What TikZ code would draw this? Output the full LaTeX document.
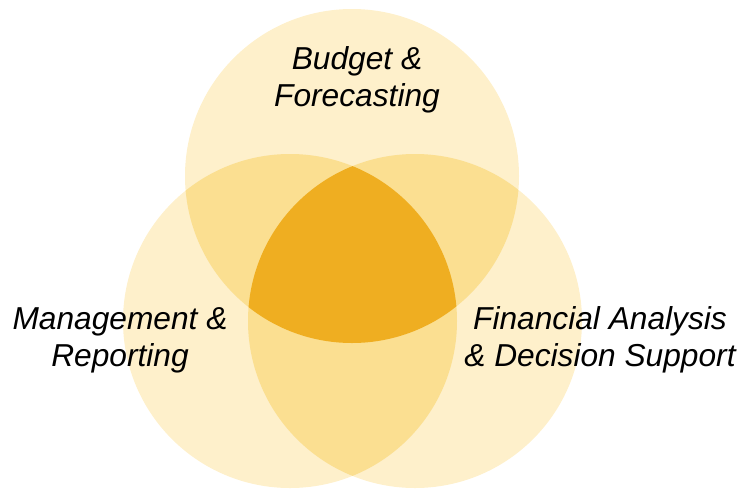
\documentclass[tikz,border=0pt]{standalone}
\usepackage{fontspec}
\setmainfont{Liberation Sans}
\definecolor{vennone}{HTML}{FEF0CB}
\definecolor{venntwo}{HTML}{FBDF91}
\definecolor{vennthree}{HTML}{EFAE21}
\begin{document}
\begin{tikzpicture}[x=1pt,y=-1pt,
  lbl/.style={align=center,inner sep=0pt,font=\fontsize{31.7}{37}\selectfont\itshape}]
\useasboundingbox (0,0) rectangle (744,488);
\coordinate (T) at (352,176);
\coordinate (L) at (290,321);
\coordinate (R) at (415,321);
\def\rr{167}
\fill[vennone] (T) circle[radius=\rr];
\fill[vennone] (L) circle[radius=\rr];
\fill[vennone] (R) circle[radius=\rr];
\begin{scope}\clip (T) circle[radius=\rr]; \fill[venntwo] (L) circle[radius=\rr]; \fill[venntwo] (R) circle[radius=\rr];\end{scope}
\begin{scope}\clip (L) circle[radius=\rr]; \fill[venntwo] (R) circle[radius=\rr];\end{scope}
\begin{scope}\clip (T) circle[radius=\rr]; \clip (L) circle[radius=\rr]; \fill[vennthree] (R) circle[radius=\rr];\end{scope}
\node[lbl] (budget) at (357,80) {Budget \&\\Forecasting};
\node[lbl] (mgmt) at (120,340) {Management \&\\Reporting};
\node[lbl] (fin) at (600,340) {Financial Analysis\\\& Decision Support};
\end{tikzpicture}
\end{document}
